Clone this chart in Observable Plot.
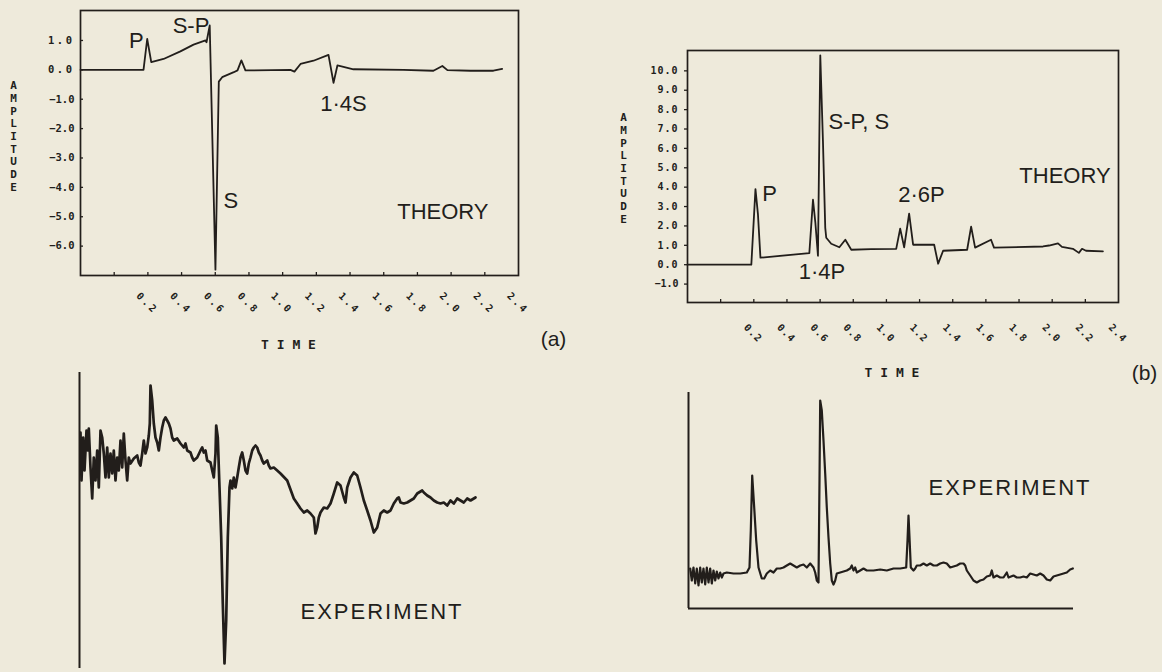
<!DOCTYPE html>
<html>
<head>
<meta charset="utf-8">
<script src="https://cdn.jsdelivr.net/npm/d3@7"></script>
<script src="https://cdn.jsdelivr.net/npm/@observablehq/plot@0.6"></script>
<style>
  html, body { margin: 0; padding: 0; background: #eeeadb; }
  #fig { position: relative; width: 1162px; height: 672px; overflow: hidden; background: #eeeadb; }
  #fig > svg { position: absolute; max-width: none; }
</style>
</head>
<body>
<div id="fig"></div>
<script>
// ---- Theory (a): computed response, amplitude vs time ----
const theoryA_time = [-0.2, 0.174, 0.196, 0.22, 0.293, 0.393, 0.471, 0.542, 0.548, 0.567,
  0.601, 0.621, 0.641, 0.71, 0.732, 0.755, 0.779, 1.046, 1.07, 1.106,
  1.183, 1.272, 1.302, 1.325, 1.361, 1.42, 1.717, 1.895, 1.948, 1.978,
  2.115, 2.251, 2.303];
const theoryA_amp = [0, 0, 1.05, 0.26, 0.37, 0.63, 0.86, 1.0, 0.94, 1.51,
  -6.8, -0.4, -0.25, -0.08, -0.02, 0.32, -0.02, 0, -0.06, 0.2,
  0.31, 0.51, -0.44, 0.15, 0.1, 0.02, 0, -0.03, 0.13, -0.01,
  -0.03, -0.03, 0.03];
const theoryA_yTicks = [1, 0, -1, -2, -3, -4, -5, -6];
const theoryA_notes = [
  {label: "P", t: 0.132, v: 0.98},
  {label: "S-P", t: 0.456, v: 1.51},
  {label: "S", t: 0.693, v: -4.45},
  {label: "1·4S", t: 1.361, v: -1.15},
  {label: "THEORY", t: 1.951, v: -4.82}
];

// ---- Theory (b) ----
const theoryB_time = [-0.2, 0.185, 0.21, 0.225, 0.24, 0.535, 0.557, 0.571, 0.587, 0.601,
  0.617, 0.631, 0.637, 0.667, 0.716, 0.752, 0.788, 0.908, 1.059, 1.083,
  1.107, 1.137, 1.161, 1.288, 1.312, 1.342, 1.487, 1.511, 1.535, 1.631,
  1.649, 1.945, 1.981, 2.035, 2.059, 2.125, 2.161, 2.18, 2.204, 2.306];
const theoryB_amp = [0, 0, 3.9, 2.6, 0.36, 0.6, 3.35, 2.2, 0.46, 10.8,
  6.4, 1.9, 1.39, 1.08, 0.9, 1.29, 0.77, 0.8, 0.82, 1.86,
  0.9, 2.63, 1.03, 1.03, 0.05, 0.72, 0.77, 1.96, 0.88, 1.29,
  0.88, 0.94, 0.99, 1.1, 0.92, 0.82, 0.61, 0.82, 0.72, 0.69];
const theoryB_yTicks = [10, 9, 8, 7, 6, 5, 4, 3, 2, 1, 0, -1];
const theoryB_notes = [
  {label: "P", t: 0.295, v: 3.66},
  {label: "S-P, S", t: 0.834, v: 7.37},
  {label: "1·4P", t: 0.611, v: -0.36},
  {label: "2·6P", t: 1.211, v: 3.6},
  {label: "THEORY", t: 2.077, v: 4.59}
];

// ---- Shared time axis ----
const timeTicks = [0, 0.2, 0.4, 0.6, 0.8, 1.0, 1.2, 1.4, 1.6, 1.8, 2.0, 2.2];
const timeTickLabels = [0.2, 0.4, 0.6, 0.8, 1.0, 1.2, 1.4, 1.6, 1.8, 2.0, 2.2, 2.4];

// ---- Experiment (a): recorded trace, arbitrary units ----
const expA_time = [1, 2, 3.7, 5, 7, 8.3, 9.3, 11, 12.7, 14.3,
  16, 17.7, 19.3, 21, 22.7, 24.3, 26, 27.7, 29.3, 31,
  32.7, 34.3, 36, 37.7, 39.3, 41, 42.7, 44.3, 46, 47.7,
  49.3, 51, 54.3, 57.7, 59.3, 61, 62.7, 64.3, 66, 67.7,
  69.3, 70.3, 71, 72.7, 74.3, 76, 77.7, 79.3, 81, 82.7,
  84.3, 86, 87.7, 89.3, 91, 92.7, 94.3, 97.7, 101, 104.3,
  106, 107.7, 111, 112.7, 114.3, 117.7, 121, 122.7, 124.3, 126,
  127.7, 131, 132.7, 134.3, 136, 136.7, 138.3, 140, 141.7, 143.3,
  145, 146.7, 148.3, 150, 151, 152.7, 154.3, 156, 157.7, 159.3,
  161, 162.7, 164.3, 166, 167.7, 169.3, 171, 172.7, 174.3, 176,
  177.7, 179.3, 181, 182.7, 184.3, 187.7, 189.3, 191, 194.3, 197.7,
  201, 207.7, 214.3, 217.7, 221, 224.3, 227.7, 231, 234.3, 236,
  237.7, 239.3, 241, 244.3, 247.7, 251, 254.3, 257.7, 261, 264.3,
  266, 267.7, 271, 274.3, 277.7, 281, 284.3, 287.7, 291, 294.3,
  297.7, 301, 304.3, 307.7, 311, 314.3, 317.7, 319.3, 321, 324.3,
  327.7, 331, 334.3, 337.7, 342.7, 344.3, 347.7, 351, 354.3, 357.7,
  361, 364.3, 367.7, 371, 374.3, 377.7, 381, 384.3, 387.7, 391,
  396];
const expA_amp = [1.8, -3.0, 1.3, -2.0, 2.0, 0.0, 2.2, -1.7, -4.8, -0.7,
  -3.0, 0.0, -3.7, 2.0, 1.3, -0.3, -2.7, 0.3, -2.7, -0.3,
  -2.3, 0.0, -3.0, -0.7, -2.0, 1.0, -1.7, 1.7, -1.0, -3.0,
  -0.7, -1.3, -0.8, -0.5, -1.2, -1.5, -0.3, 1.0, -0.3, 0.3,
  1.5, 2.7, 6.5, 5.0, 2.7, 1.3, 0.8, 0.0, 1.3, 2.3,
  3.0, 3.3, 3.0, 2.7, 2.2, 1.3, 1.0, 1.2, 0.7, 0.3,
  0.7, 0.0, -0.2, -0.7, -1.0, -0.7, 0.0, 0.3, -0.2, 0.0,
  -1.0, -1.2, -2.0, -2.7, -0.3, 2.5, 1.3, -3.7, -8.7, -15.3,
  -21.3, -17.0, -8.7, -3.7, -3.0, -3.8, -2.7, -3.7, -2.7, -1.7,
  -0.7, -0.2, -1.0, -2.0, -2.3, -1.3, -0.7, 0.0, 0.3, 0.5,
  0.3, -0.2, -0.5, -1.0, -1.3, -1.0, -1.5, -1.8, -1.7, -2.0,
  -2.3, -3.0, -4.8, -5.3, -5.8, -6.2, -6.0, -6.3, -6.7, -8.3,
  -7.7, -6.7, -6.2, -5.7, -5.8, -5.3, -4.3, -3.2, -3.5, -4.7,
  -5.2, -3.7, -2.7, -2.2, -2.5, -3.7, -5.0, -6.0, -7.0, -8.2,
  -7.7, -6.3, -6.0, -6.2, -6.0, -5.3, -4.8, -4.7, -5.2, -5.3,
  -5.2, -5.0, -4.8, -4.3, -4.0, -4.2, -4.5, -4.7, -5.0, -5.2,
  -5.3, -5.2, -5.5, -5.0, -5.3, -4.8, -5.0, -5.2, -4.8, -5.0,
  -4.7];

// ---- Experiment (b) ----
const expB_time = [1.7, 3.3, 5, 6.7, 8.3, 10, 11.7, 13.3, 15, 16.7,
  18.3, 20, 21.7, 23.3, 25, 26.7, 28.3, 30, 31.7, 33.3,
  35, 38.3, 45, 51.7, 58.3, 61, 62.3, 63.7, 65.7, 67.7,
  70, 73.3, 75.7, 78.3, 81.7, 85, 88.3, 91.7, 95, 98.3,
  101.7, 105, 108.3, 111.7, 115, 118.3, 121.7, 125, 126.7, 128.3,
  130, 131, 131.7, 133.3, 135, 136.7, 138.3, 140, 141.7, 143.3,
  145, 146.7, 148.3, 151.7, 155, 158.3, 161.7, 163.3, 165, 166.7,
  168.3, 171.7, 175, 178.3, 185, 191.7, 198.3, 205, 211.7, 217.7,
  219, 220, 221, 222.3, 225, 226.7, 228.3, 231.7, 235, 238.3,
  241.7, 245, 248.3, 251.7, 255, 258.3, 261.7, 265, 268.3, 271.7,
  275, 276.7, 278.3, 281.7, 285, 288.3, 291.7, 295, 298.3, 301.7,
  303.3, 305, 308.3, 311.7, 315, 318.3, 320, 325, 328.3, 331.7,
  335, 338.3, 341.7, 345, 348.3, 351.7, 355, 358.3, 361.7, 365,
  368.3, 371.7, 375, 378.3, 381.7, 384.3];
const expB_amp = [4.0, 2.8, 4.1, 2.5, 4.0, 2.3, 4.1, 2.6, 4.0, 2.4,
  4.1, 2.6, 4.0, 2.5, 3.8, 2.8, 3.7, 3.0, 3.6, 3.1,
  3.5, 3.6, 3.5, 3.5, 3.6, 4.1, 7.8, 13.3, 10.1, 6.8,
  4.1, 3.0, 3.0, 3.5, 3.8, 3.6, 4.0, 4.0, 4.1, 4.3,
  4.5, 4.3, 4.1, 4.3, 4.4, 4.1, 4.5, 4.1, 3.6, 2.8,
  2.6, 12.8, 20.8, 19.8, 16.8, 13.5, 10.1, 7.1, 4.5, 2.8,
  2.4, 2.8, 3.5, 3.6, 3.7, 3.8, 4.0, 4.3, 3.8, 4.1,
  3.6, 3.8, 4.0, 3.8, 3.8, 3.9, 3.8, 4.0, 4.0, 4.1,
  6.8, 9.3, 7.1, 4.1, 3.8, 4.0, 4.3, 4.3, 4.5, 4.3,
  4.5, 4.3, 4.3, 4.5, 4.6, 4.5, 4.1, 4.2, 4.3, 4.5,
  4.5, 4.3, 3.8, 3.3, 2.8, 2.6, 2.8, 2.9, 3.2, 3.3,
  3.8, 3.1, 3.3, 3.1, 3.1, 3.6, 3.1, 3.3, 3.1, 3.1,
  3.2, 3.1, 3.5, 3.4, 3.3, 3.5, 3.3, 2.9, 2.8, 3.2,
  3.3, 3.4, 3.5, 3.6, 3.9, 4.0];

// ---- Styling ----
const ink = "#221e1b";
const signFont = "'Liberation Sans', Arial, sans-serif";
const monoFont = "'DejaVu Sans Mono', monospace";
const fmt = d3.format(".1f");
const zip = (xs, ys) => xs.map((x, i) => ({x, y: ys[i]}));

function theoryPanel(o) {
  const [x0] = o.xDomain;
  const [y0] = o.yDomain;
  return Plot.plot({
    width: o.width, height: o.height,
    marginLeft: o.ml, marginRight: o.mr, marginTop: o.mt, marginBottom: o.mb,
    x: {domain: o.xDomain, axis: null},
    y: {domain: o.yDomain, axis: null},
    style: {background: "transparent", color: ink, overflow: "visible"},
    marks: [
      Plot.frame({stroke: ink, strokeWidth: 1.7}),
      // short inward ticks on the time axis
      Plot.ruleX(timeTicks, {x: d => d, y1: y0, y2: y0 + o.xTickLen, stroke: ink, strokeWidth: 1.3}),
      // amplitude ticks
      Plot.ruleY(o.yTicks, {y: d => d, x1: x0 + o.yTick[0], x2: x0 + o.yTick[1], stroke: ink, strokeWidth: 1.3}),
      Plot.text(o.yTicks, {
        y: d => d, text: d => fmt(d), frameAnchor: "left", dx: o.yLabelDx, textAnchor: "end",
        fontFamily: monoFont, fontWeight: "bold", fontSize: o.yLabelSize, fill: ink
      }),
      Plot.text(timeTickLabels, {
        x: d => d, text: d => fmt(d), frameAnchor: "bottom", dy: o.xLabelDy, dx: -3, rotate: 45,
        fontFamily: monoFont, fontWeight: "bold", fontSize: 10, fill: ink
      }),
      Plot.text(["AMPLITUDE"], {
        text: d => d.split("").join("\n"), frameAnchor: "top-left", dx: o.ampDx, dy: o.ampDy,
        textAnchor: "middle", lineAnchor: "top", lineHeight: 1.15,
        fontFamily: monoFont, fontWeight: "bold", fontSize: 11, fill: ink
      }),
      Plot.text(["T I M E"], {
        frameAnchor: "bottom", dx: -11, dy: o.timeDy, textAnchor: "middle",
        fontFamily: monoFont, fontWeight: "bold", fontSize: 13, fill: ink
      }),
      Plot.text([o.tag], {
        frameAnchor: "bottom-right", dx: o.tagDx, dy: o.tagDy, textAnchor: "middle",
        fontFamily: signFont, fontSize: 21, fill: ink
      }),
      Plot.line(zip(o.time, o.amp), {x: "x", y: "y", stroke: ink, strokeWidth: 1.8}),
      Plot.text(o.notes, {
        x: "t", y: "v", text: "label", textAnchor: "middle",
        fontFamily: signFont, fontSize: 22, fill: ink
      })
    ]
  });
}

function experimentPanel(o) {
  return Plot.plot({
    width: o.width, height: o.height,
    marginLeft: o.ml, marginRight: o.mr, marginTop: o.mt, marginBottom: o.mb,
    x: {domain: [0, 400], axis: null},
    y: {domain: o.yDomain, axis: null},
    style: {background: "transparent", color: ink, overflow: "visible"},
    marks: [
      Plot.ruleX([0], {stroke: ink, strokeWidth: 2}),
      o.baseline ? Plot.ruleY([0], {x1: 0, x2: o.baseline, stroke: ink, strokeWidth: 2}) : null,
      Plot.line(zip(o.time, o.amp), {x: "x", y: "y", stroke: ink, strokeWidth: o.lw}),
      Plot.text(["EXPERIMENT"], {
        x: o.label[0], y: o.label[1], textAnchor: "start",
        fontFamily: signFont, fontSize: 22, fill: ink
      })
    ]
  });
}

const fig = document.getElementById("fig");
function place(svg, left, top) {
  svg.style.left = left + "px";
  svg.style.top = top + "px";
  fig.appendChild(svg);
  return svg;
}

// spread out the plotter-style lettering
function spaceText(svg, test, spacing) {
  svg.querySelectorAll("text").forEach(t => {
    if (test(t.textContent)) t.setAttribute("letter-spacing", spacing);
  });
}

const panelA = place(theoryPanel({
  width: 580, height: 370, ml: 80, mr: 62, mt: 10, mb: 95,
  xDomain: [-0.2, 2.4], yDomain: [-7, 2.02],
  time: theoryA_time, amp: theoryA_amp, yTicks: theoryA_yTicks, notes: theoryA_notes,
  xTickLen: 0.1, yTick: [0, 0.018], yLabelDx: -6, yLabelSize: 10.5,
  xLabelDy: 30, ampDx: -67, ampDy: 70, timeDy: 73, tag: "(a)", tagDx: 35, tagDy: 70
}), 0, 0);

const panelB = place(theoryPanel({
  width: 582, height: 400, ml: 107, mr: 44, mt: 50, mb: 98,
  xDomain: [-0.2, 2.4], yDomain: [-1.95, 11.05],
  time: theoryB_time, amp: theoryB_amp, yTicks: theoryB_yTicks, notes: theoryB_notes,
  xTickLen: 0.15, yTick: [-0.018, 0], yLabelDx: -9, yLabelSize: 10,
  xLabelDy: 33, ampDx: -64, ampDy: 62, timeDy: 74, tag: "(b)", tagDx: 26, tagDy: 77
}), 580, 0);

const expPanelA = place(experimentPanel({
  width: 580, height: 312, ml: 79, mr: 101, mt: 12, mb: 4,
  yDomain: [-21.8, 7.8], time: expA_time, amp: expA_amp, lw: 2.7,
  label: [221, -16.1]
}), 0, 360);

const expPanelB = place(experimentPanel({
  width: 582, height: 302, ml: 108, mr: 74, mt: 22, mb: 64,
  yDomain: [0, 21.6], time: expB_time, amp: expB_amp, lw: 2.2, baseline: 385,
  label: [240, 12.1]
}), 580, 370);

const isAmpLabel = s => /^-?\d+\.\d$/.test(s);
spaceText(panelA, isAmpLabel, "2.5");
spaceText(panelB, isAmpLabel, "1");
spaceText(expPanelA, s => s === "EXPERIMENT", "2");
spaceText(expPanelB, s => s === "EXPERIMENT", "2");
</script>
</body>
</html>
